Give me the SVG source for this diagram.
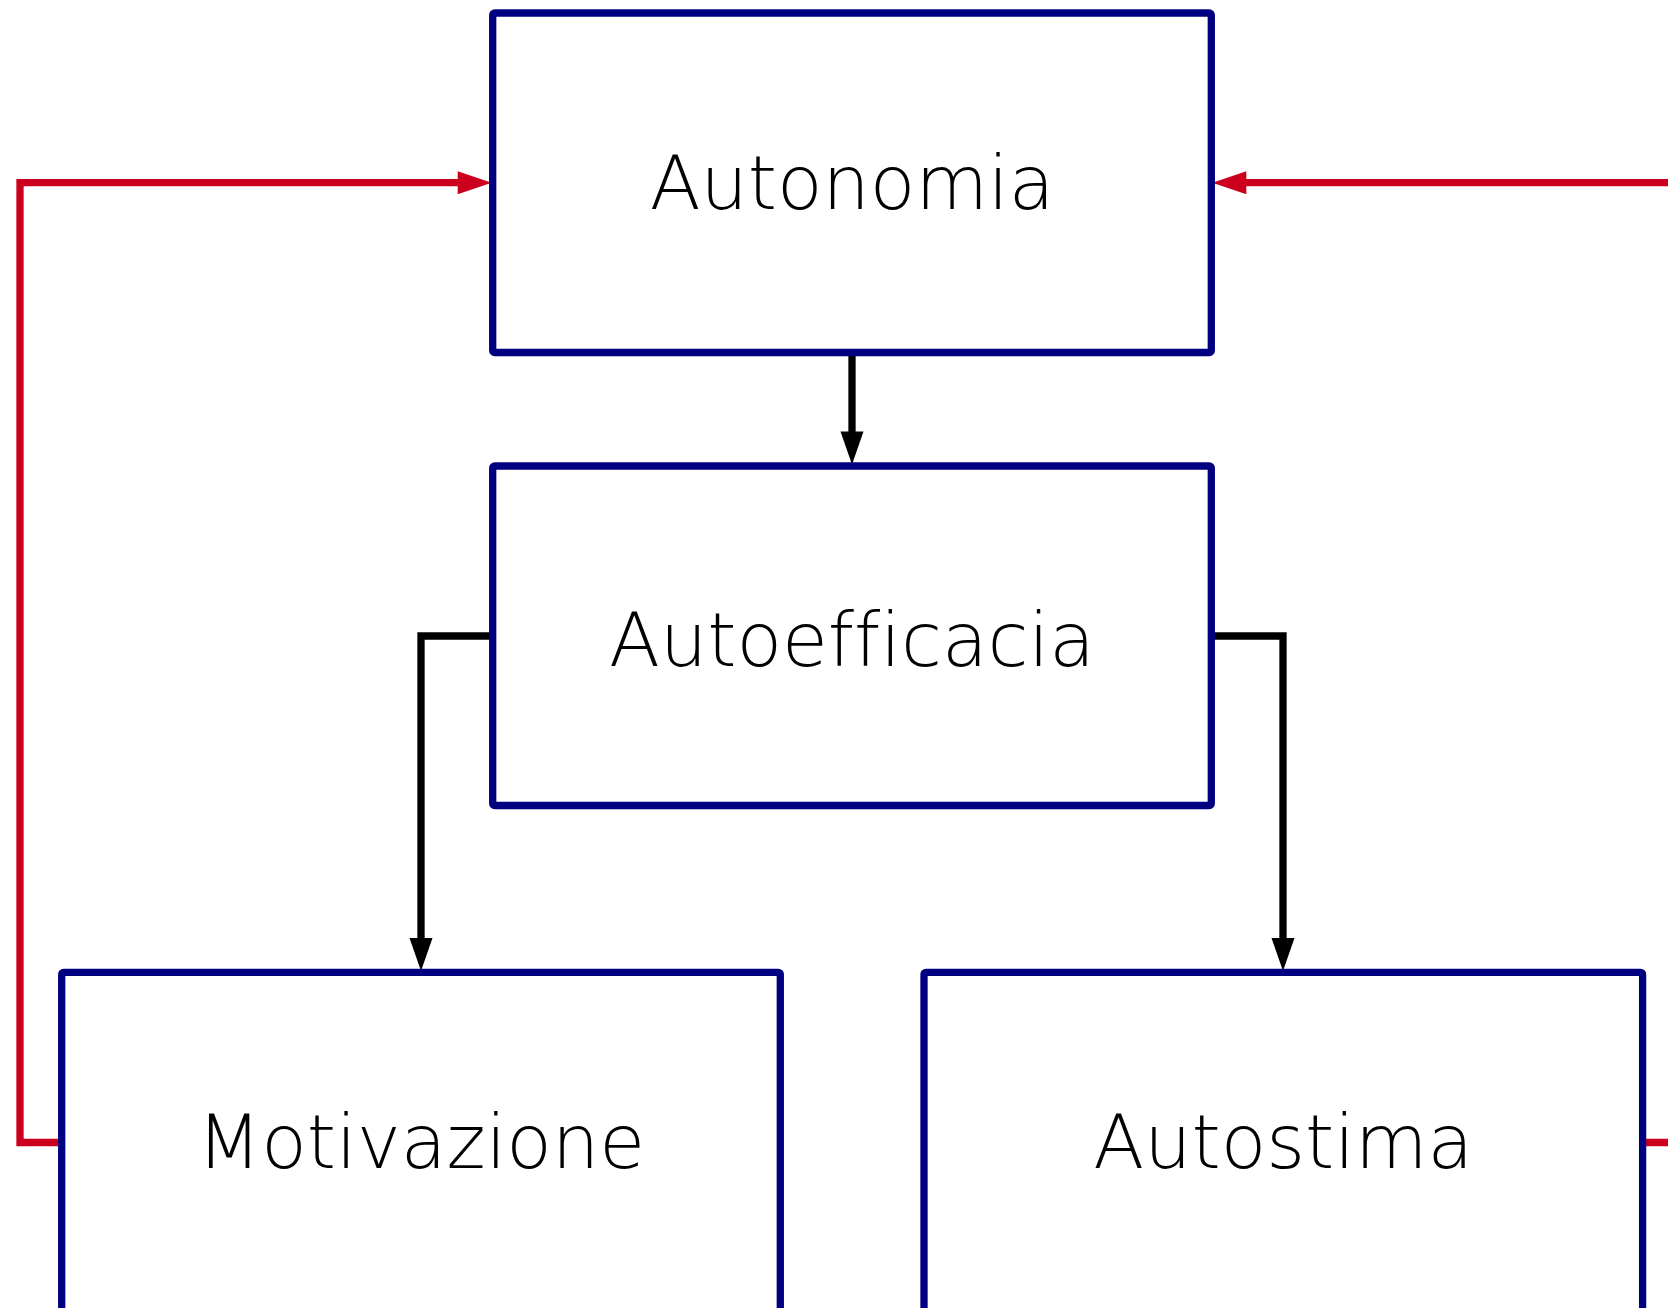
<svg xmlns="http://www.w3.org/2000/svg" width="1668" height="1308" viewBox="0 0 1668 1308">
<defs>
<style>
.box{fill:#ffffff;stroke:#000080;stroke-width:7.3;stroke-linejoin:round}
.lbl{font-family:"DejaVu Sans","Open Sans",sans-serif;font-weight:200;font-size:74.5px;fill:#000000;text-anchor:middle;font-variant-ligatures:none;font-feature-settings:"liga" 0}
.blk{fill:none;stroke:#000000;stroke-width:7.3}
.red{fill:none;stroke:#cc001e;stroke-width:7.3}
</style>
<marker id="ab" markerUnits="userSpaceOnUse" markerWidth="36" markerHeight="26" refX="1" refY="11.5" orient="auto" overflow="visible">
<path d="M0,0 L33,11.5 L0,23 Z" fill="#000000"/>
</marker>
<marker id="ar" markerUnits="userSpaceOnUse" markerWidth="36" markerHeight="26" refX="1" refY="11.5" orient="auto" overflow="visible">
<path d="M0,0 L34,11.5 L0,23 Z" fill="#cc001e"/>
</marker>
</defs>
<rect width="1668" height="1308" fill="#ffffff"/>
<g id="connectors">
<path class="blk" d="M852,352.7 V432.5" marker-end="url(#ab)"/>
<path class="blk" d="M492.7,636 H421 V939" marker-end="url(#ab)"/>
<path class="blk" d="M1211.3,636 H1283 V939" marker-end="url(#ab)"/>
<path class="red" d="M61.7,1142.5 H20 V182.7 H458.7" marker-end="url(#ar)"/>
<path class="red" d="M1642.7,1142.5 H1720 V182.7 H1245.3" marker-end="url(#ar)"/>
</g>
<g id="autonomia">
<rect class="box" x="492.7" y="13" width="718.6" height="339.5" rx="2"/>
<text class="lbl" x="852" y="209">Autonomia</text>
</g>
<g id="autoefficacia">
<rect class="box" x="492.7" y="466" width="718.6" height="339.5" rx="2"/>
<text class="lbl" x="852" y="666">Autoefficacia</text>
</g>
<g id="motivazione">
<rect class="box" x="61.7" y="972.3" width="718.6" height="339.5" rx="2"/>
<text class="lbl" x="421" y="1168">Motivazione</text>
</g>
<g id="autostima">
<rect class="box" x="924" y="972.3" width="718.6" height="339.5" rx="2"/>
<text class="lbl" x="1283.3" y="1168">Autostima</text>
</g>
</svg>
